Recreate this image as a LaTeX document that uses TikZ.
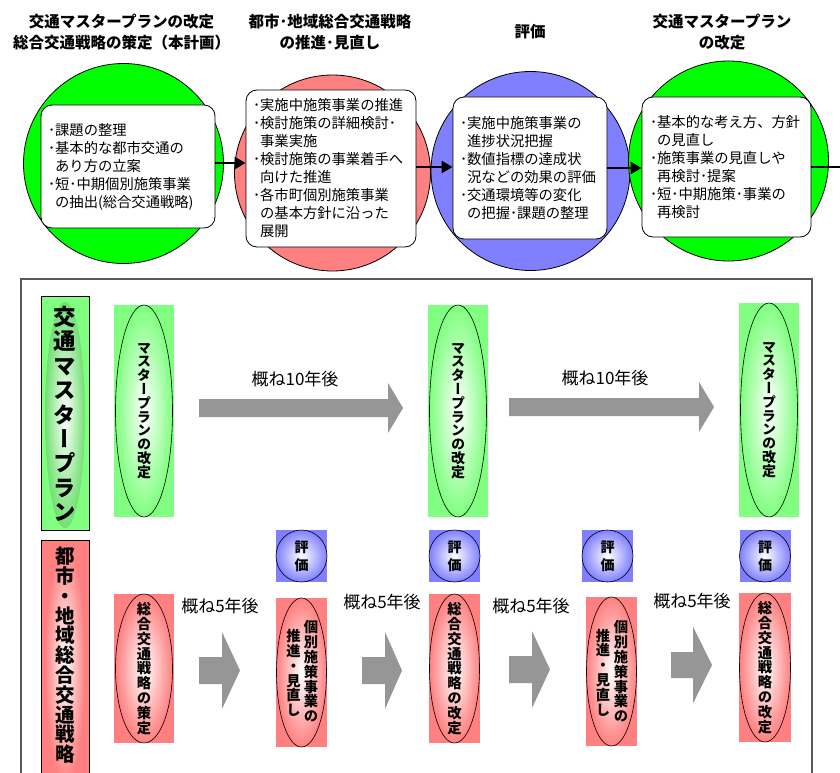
\documentclass[tikz,border=0pt]{standalone}
\usepackage{fontspec}
\setmainfont{Noto Sans CJK JP}
\newfontfamily\tatefont[RawFeature=+vert]{Noto Sans CJK JP}
\usetikzlibrary{shapes.geometric,arrows.meta}

\definecolor{cgreen}{HTML}{00FF00}
\definecolor{cpink}{HTML}{FF8080}
\definecolor{cblue}{HTML}{8080FF}
\definecolor{lgreen}{HTML}{80FF80}
\definecolor{arrgray}{HTML}{969696}

% stack the characters of a word one above the other
\makeatletter
\def\tate#1{\tate@a#1\@nil}
\def\tate@a#1#2\@nil{#1\ifx\relax#2\relax\else\\\tate@a#2\@nil\fi}
\makeatother

% block arrow: x-start, x-tip, x-head, y-centre, half shaft, half head
\newcommand\grayarrow[6]{%
  \fill[arrgray] (#1,#4-#5) -- (#3,#4-#5) -- (#3,#4-#6) -- (#2,#4)
    -- (#3,#4+#6) -- (#3,#4+#5) -- (#1,#4+#5) -- cycle;}

\tikzset{
  bigcircle/.style={circle,draw,line width=0.8pt,fill=#1,inner sep=0pt},
  textbox/.style={draw,fill=white,rounded corners=11pt,line width=0.8pt,
    align=left,inner sep=0pt,font=\fontsize{14.3}{18}\selectfont},
  flow/.style={line width=2.6pt,-{Triangle[length=11pt,width=12pt]}},
  heading/.style={align=center,font=\bfseries\fontsize{15.5}{21}\selectfont},
  backrect/.style={rectangle,fill=#1,inner sep=0pt},
  shadeell/.style={ellipse,draw,line width=0.6pt,inner sep=0pt,
    shading=radial,inner color=white,outer color=#1},
  tatetext/.style={align=center,inner sep=0pt,
    font=\tatefont\bfseries\fontsize{14.3}{14.8}\selectfont},
  yearlbl/.style={font=\fontsize{17}{20}\selectfont},
}

\begin{document}
\begin{tikzpicture}[x=1pt,y=-1pt]
\useasboundingbox (0,0) rectangle (840,773);

% upper flow
\draw (121.5,32) node(H1)[heading]{交通マスタープランの改定\\総合交通戦略の策定（本計画）};
\draw (330,32) node(H2)[heading]{都市･地域総合交通戦略\\の推進･見直し};
\draw (530,32) node(H3)[heading]{評価};
\draw (722,32) node(H4)[heading]{交通マスタープラン\\の改定};

\draw (123.5,163.5) node(C1)[bigcircle=cgreen,minimum size=200pt]{};
\draw (332.5,173) node(C2)[bigcircle=cpink,minimum size=196pt]{};
\draw (530.5,171) node(C3)[bigcircle=cblue,minimum size=199pt]{};
\draw (728.5,161) node(C4)[bigcircle=cgreen,minimum size=200pt]{};

\draw (128,166.5) node(B1)[textbox,minimum width=174pt,minimum height=123pt,text width=160pt]{%
･課題の整理\\
･基本的な都市交通の\\
\hspace*{0.5em}あり方の立案\\
･短･中期個別施策事業\\
\hspace*{0.5em}の抽出(総合交通戦略)};
\draw (331,168.5) node(B2)[textbox,minimum width=170pt,minimum height=157pt,text width=156pt]{%
･実施中施策事業の推進\\
･検討施策の詳細検討･\\
\hspace*{0.5em}事業実施\\
･検討施策の事業着手へ\\
\hspace*{0.5em}向けた推進\\
･各市町個別施策事業\\
\hspace*{0.5em}の基本方針に沿った\\
\hspace*{0.5em}展開};
\draw (530,168) node(B3)[textbox,minimum width=154pt,minimum height=142pt,text width=140pt]{%
･実施中施策事業の\\
\hspace*{0.5em}進捗状況把握\\
･数値指標の達成状\\
\hspace*{0.5em}況などの効果の評価\\
･交通環境等の変化\\
\hspace*{0.5em}の把握･課題の整理};
\draw (726.5,167) node(B4)[textbox,minimum width=169pt,minimum height=140pt,text width=153pt]{%
･基本的な考え方、方針\\
\hspace*{0.5em}の見直し\\
･施策事業の見直しや\\
\hspace*{0.5em}再検討･提案\\
･短･中期施策･事業の\\
\hspace*{0.5em}再検討};

\coordinate (OUT) at (852,167);
\draw[flow] ([yshift=3.5pt]B1.east) -- ([yshift=3.5pt]B1.east -| B2.west);
\draw[flow] ([yshift=1.5pt]B2.east) -- ([yshift=1.5pt]B2.east -| B3.west);
\draw[flow] (B3.east) -- (B3.east -| B4.west);
\draw[flow] (B4.east) -- (OUT);

% lower chart
\draw[gray!70!black,line width=1.4pt] (21,800) -- (21,279) -- (812,279) -- (812,800);

\draw (65,413) node(LMP)[backrect=lgreen,draw,minimum width=48pt,minimum height=234pt]{};
\draw (65,415) node(LMPE)[ellipse,inner sep=0pt,minimum width=40pt,minimum height=226pt,
  shading=radial,inner color=white,outer color=lgreen!80!black!60!lgreen]{};
\draw (65,306) node(LMPT)[anchor=north,align=center,inner sep=0pt,
  font=\tatefont\bfseries\fontsize{22.5}{24.4}\selectfont]{\tate{交通マスタープラン}};

\draw (65,667.5) node(LST)[backrect=cpink,draw,minimum width=48pt,minimum height=255pt]{};
\draw (65,665) node(LSTE)[ellipse,inner sep=0pt,minimum width=40pt,minimum height=240pt,
  shading=radial,inner color=white,outer color=cpink]{};
\draw (65,547) node(LSTT)[anchor=north,align=center,inner sep=0pt,
  font=\tatefont\bfseries\fontsize{19.5}{19.8}\selectfont]{\tate{都市・地域総合交通戦略}};

% master plan row
\draw (144,411) node(MP1R)[backrect=lgreen,minimum width=60pt,minimum height=212pt]{};
\draw (144,411) node(MP1)[shadeell=lgreen,minimum width=57pt,minimum height=212pt]{};
\draw (458,411) node(MP2R)[backrect=lgreen,minimum width=60pt,minimum height=212pt]{};
\draw (458,411) node(MP2)[shadeell=lgreen,minimum width=57pt,minimum height=212pt]{};
\draw (769,410) node(MP3R)[backrect=lgreen,minimum width=60pt,minimum height=214pt]{};
\draw (769,410) node(MP3)[shadeell=lgreen,minimum width=57pt,minimum height=214pt]{};
\foreach \n in {MP1,MP2,MP3}
  \draw (\n) node(\n T)[tatetext,font=\tatefont\bfseries\fontsize{14}{13.8}\selectfont]{\tate{マスタープランの改定}};

\grayarrow{199}{403}{388}{408}{9}{25}
\grayarrow{509}{714}{699}{407}{9}{25}
\draw (295,379) node(TEN1)[yearlbl]{概ね10年後};
\draw (605,378) node(TEN2)[yearlbl]{概ね10年後};

% strategy row
\draw (144,668.5) node(ST1R)[backrect=cpink,minimum width=60pt,minimum height=149pt]{};
\draw (144,668.5) node(ST1)[shadeell=cpink,minimum width=57pt,minimum height=149pt]{};
\draw (ST1) node(ST1T)[tatetext]{\tate{総合交通戦略の策定}};

\draw (301.5,672.5) node(ST2R)[backrect=cpink,minimum width=51pt,minimum height=149pt]{};
\draw (301.5,672.5) node(ST2)[shadeell=cpink,minimum width=50pt,minimum height=149pt]{};
\draw (311,671.5) node(ST2A)[tatetext]{\tate{個別施策事業の}};
\draw (293.5,673) node(ST2B)[tatetext]{\tate{推進・見直し}};

\draw (454.5,668.5) node(ST3R)[backrect=cpink,minimum width=51pt,minimum height=149pt]{};
\draw (454.5,668.5) node(ST3)[shadeell=cpink,minimum width=50pt,minimum height=149pt]{};
\draw (ST3) node(ST3T)[tatetext]{\tate{総合交通戦略の改定}};

\draw (611.5,671.5) node(ST4R)[backrect=cpink,minimum width=51pt,minimum height=149pt]{};
\draw (611.5,671.5) node(ST4)[shadeell=cpink,minimum width=50pt,minimum height=149pt]{};
\draw (621,671.5) node(ST4A)[tatetext]{\tate{個別施策事業の}};
\draw (603,672.5) node(ST4B)[tatetext]{\tate{推進・見直し}};

\draw (765,667.5) node(ST5R)[backrect=cpink,minimum width=52pt,minimum height=149pt]{};
\draw (765,667.5) node(ST5)[shadeell=cpink,minimum width=51pt,minimum height=149pt]{};
\draw (ST5) node(ST5T)[tatetext]{\tate{総合交通戦略の改定}};

% evaluation marks
\foreach \x/\n in {301.5/EV1,454.5/EV2,607.5/EV3,765/EV4}{
  \draw (\x,556) node(\n R)[backrect=cblue,minimum width=51pt,minimum height=52pt]{};
  \draw (\x,556) node(\n)[shadeell=cblue,minimum width=51pt,minimum height=52pt]{};
  \draw (\n) node(\n T)[tatetext,font=\bfseries\fontsize{14}{18}\selectfont]{評\\価};
}

\grayarrow{199}{240}{222}{670.5}{13.5}{38.5}
\grayarrow{362}{402}{385}{670.5}{13.5}{38.5}
\grayarrow{509}{550}{532}{669.5}{13.5}{38.5}
\grayarrow{671}{712}{693}{665}{13}{38.5}
\draw (220,606) node(FIVE1)[yearlbl]{概ね5年後};
\draw (382,602) node(FIVE2)[yearlbl]{概ね5年後};
\draw (531,606) node(FIVE3)[yearlbl]{概ね5年後};
\draw (692,601) node(FIVE4)[yearlbl]{概ね5年後};

\end{tikzpicture}
\end{document}
